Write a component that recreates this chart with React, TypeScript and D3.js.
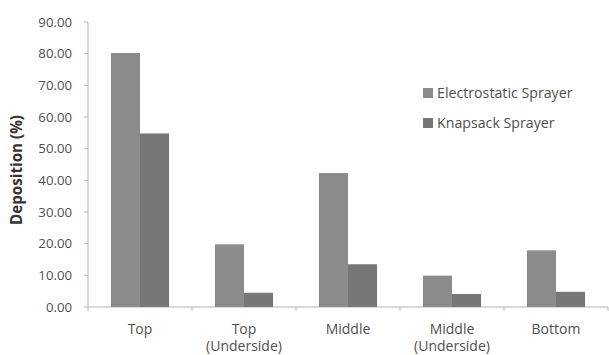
import React from "react";
import * as d3 from "d3";

const categories = [["Top"], ["Top", "(Underside)"], ["Middle"], ["Middle", "(Underside)"], ["Bottom"]];
const electrostatic = [80.2, 19.8, 42.3, 9.9, 17.9];
const knapsack = [54.8, 4.5, 13.5, 4.1, 4.8];
const seriesNames = ["Electrostatic Sprayer", "Knapsack Sprayer"];
const yTicks = [0, 10, 20, 30, 40, 50, 60, 70, 80, 90];

const W = 609;
const H = 355;
const left = 88;
const right = 608;
const top = 22;
const bottom = 307;
const colors = ["#8b8b8d", "#77777a"];
const textColor = "#4f4f4f";
const font = "'Open Sans', 'DejaVu Sans', sans-serif";

export default function App() {
  const keys = categories.map((_, i) => String(i));
  const x = d3.scaleBand().domain(keys).range([left, right]).paddingInner(0).paddingOuter(0);
  const inner = d3.scaleBand().domain(["0", "1"]).range([0, x.bandwidth()]).paddingOuter(0.79).paddingInner(0);
  const y = d3.scaleLinear().domain([0, 90]).range([bottom, top]);
  const series = [electrostatic, knapsack];

  return (
    <svg width={W} height={H} style={{ position: "absolute", left: 0, top: 0, background: "#fff" }} fontFamily={font}>
      {/* axes */}
      <line x1={left} x2={left} y1={y(90)} y2={bottom} stroke="#b5b5b5" />
      <line x1={left} x2={right} y1={bottom} y2={bottom} stroke="#b5b5b5" />
      {yTicks.map((t) => (
        <g key={t}>
          <line x1={left - 4} x2={left} y1={y(t)} y2={y(t)} stroke="#b5b5b5" />
          <text x={72} y={y(t)} dy="0.35em" textAnchor="end" fontSize={13.2} fill={textColor}>
            {t.toFixed(2)}
          </text>
        </g>
      ))}
      {keys.map((k) => (
        <line key={k} x1={x(k)!} x2={x(k)!} y1={bottom} y2={bottom + 4} stroke="#b5b5b5" />
      ))}
      <line x1={right} x2={right} y1={bottom} y2={bottom + 4} stroke="#b5b5b5" />

      {/* bars */}
      {series.map((vals, s) =>
        vals.map((v, i) => (
          <rect
            key={`${s}-${i}`}
            x={x(String(i))! + inner(String(s))!}
            width={inner.bandwidth()}
            y={y(v)}
            height={bottom - y(v)}
            fill={colors[s]}
          />
        ))
      )}

      {/* category labels */}
      {categories.map((lines, i) => (
        <text key={i} textAnchor="middle" fontSize={14} fill={textColor}>
          {lines.map((ln, j) => (
            <tspan key={j} x={x(String(i))! + x.bandwidth() / 2} y={329 + j * 17.5} dy="0.35em">
              {ln}
            </tspan>
          ))}
        </text>
      ))}

      {/* y title */}
      <text
        transform={`translate(17,170) rotate(-90)`}
        textAnchor="middle"
        dy="0.35em"
        fontSize={15.2}
        fontWeight="bold"
        fill="#333"
      >
        Deposition (%)
      </text>

      {/* legend */}
      {seriesNames.map((n, i) => (
        <g key={n} transform={`translate(423,${93 + i * 30})`}>
          <rect x={0} y={-5} width={10} height={10} fill={colors[i]} />
          <text x={14} y={0} dy="0.35em" fontSize={14.2} fill={textColor}>
            {n}
          </text>
        </g>
      ))}
    </svg>
  );
}
